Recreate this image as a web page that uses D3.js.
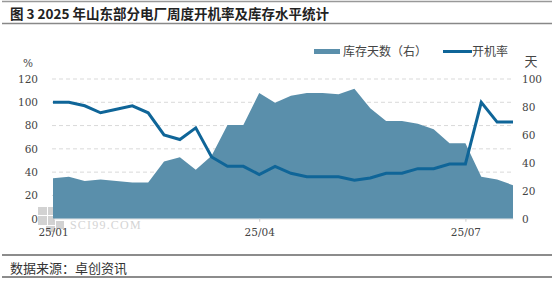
<!DOCTYPE html>
<html>
<head>
<meta charset="utf-8">
<script src="https://cdn.jsdelivr.net/npm/d3@7"></script>
<style>
  body { margin: 0; background: #fff; }
  svg { display: block; }
</style>
</head>
<body>
<div id="container"></div>
<script>
// weekly data, 2025
const weeks = ["2025-01-02","2025-01-09","2025-01-16","2025-01-23","2025-01-30","2025-02-06","2025-02-13","2025-02-20",
    "2025-02-27","2025-03-06","2025-03-13","2025-03-20","2025-03-27","2025-04-03","2025-04-10","2025-04-17",
    "2025-04-24","2025-05-01","2025-05-08","2025-05-15","2025-05-22","2025-05-29","2025-06-05","2025-06-12",
    "2025-06-19","2025-06-26","2025-07-03","2025-07-10","2025-07-17","2025-07-24"];
const runRate = [100, 100, 97, 91, 94, 97, 91, 72, 68, 78, 53, 45, 45, 38, 45, 39, 36, 36, 36, 33,
    35, 39, 39, 43, 43, 47, 47, 100, 83, 83];
const stockDays = [29, 30, 27, 28, 27, 26, 26, 41, 44, 35, 45, 67, 67, 90, 83, 88, 90, 90, 89, 93,
    79, 70, 70, 68, 64, 54, 54, 30, 28, 24];
const xTicks = ["2025-01-02", "2025-04-03", "2025-07-03"];
const xTickLabels = ["25/01", "25/04", "25/07"];
const leftTicks = [0, 20, 40, 60, 80, 100, 120];
const rightTicks = [0, 20, 40, 60, 80, 100];

const width = 554, height = 281;
const parse = d3.timeParse("%Y-%m-%d");
const data = weeks.map((w, i) => ({ date: parse(w), rate: runRate[i], stock: stockDays[i] }));

const areaColor = "#5a8fab", lineColor = "#0f6598";
const axisFont = "'DejaVu Serif', 'Liberation Serif', serif";
const cjkFont = "'Noto Sans CJK SC', 'Noto Sans', sans-serif";

const svg = d3.select("#container").append("svg")
    .attr("width", width)
    .attr("height", height);

// title block
svg.append("line").attr("x1", 2).attr("x2", 552).attr("y1", 1.5).attr("y2", 1.5)
    .attr("stroke", "#999").attr("stroke-width", 1.5);
svg.append("text").attr("x", 10).attr("y", 18.5)
    .attr("font-family", cjkFont).attr("font-size", 13.5).attr("font-weight", "bold")
    .attr("fill", "#222")
    .text("图 3 2025 年山东部分电厂周度开机率及库存水平统计");
svg.append("line").attr("x1", 2).attr("x2", 552).attr("y1", 23.5).attr("y2", 23.5)
    .attr("stroke", "#888").attr("stroke-width", 1.5);

// scales
const x = d3.scaleTime()
    .domain(d3.extent(data, d => d.date))
    .range([53, 513]);
const yLeft = d3.scaleLinear().domain([0, 120]).range([218.7, 79]);
const yRight = d3.scaleLinear().domain([0, 100]).range([218.7, 79]);

// grid
svg.append("g")
    .selectAll("line")
    .data(leftTicks.filter(t => t > 0))
    .join("line")
    .attr("x1", 52).attr("x2", 514)
    .attr("y1", d => yLeft(d)).attr("y2", d => yLeft(d))
    .attr("stroke", "#d9d9d9").attr("stroke-dasharray", "4,3");

// watermark
const wm = svg.append("g").attr("fill", "#d2d2d2");
wm.append("rect").attr("x", 38).attr("y", 207).attr("width", 9).attr("height", 8);
wm.append("rect").attr("x", 48).attr("y", 207).attr("width", 6).attr("height", 8);
wm.append("rect").attr("x", 38).attr("y", 216).attr("width", 9).attr("height", 9);
wm.append("rect").attr("x", 48).attr("y", 216).attr("width", 7).attr("height", 9);
wm.append("rect").attr("x", 56).attr("y", 221).attr("width", 8).attr("height", 8);
wm.append("rect").attr("x", 46).attr("y", 226).attr("width", 9).attr("height", 6);
svg.append("text").attr("x", 70).attr("y", 229)
    .attr("font-family", "'Liberation Serif', serif").attr("font-size", 12).attr("letter-spacing", 1.2)
    .attr("fill", "#d4d4d4").text("SCI99.COM");

// area (right axis)
const area = d3.area()
    .x(d => x(d.date))
    .y0(yRight(0))
    .y1(d => yRight(d.stock));
svg.append("path").datum(data).attr("d", area).attr("fill", areaColor);

// line (left axis)
const line = d3.line()
    .x(d => x(d.date))
    .y(d => yLeft(d.rate));
svg.append("path").datum(data).attr("d", line)
    .attr("fill", "none").attr("stroke", lineColor).attr("stroke-width", 3)
    .attr("stroke-linejoin", "miter");

// x axis
const xAxis = d3.axisBottom(x)
    .tickValues(xTicks.map(parse))
    .tickFormat((d, i) => xTickLabels[i])
    .tickSize(3)
    .tickSizeOuter(0);
const gx = svg.append("g").attr("transform", `translate(0, ${yLeft(0)})`).call(xAxis);
gx.select(".domain").attr("stroke", "#e6e6e6");
gx.selectAll(".tick line").attr("stroke", "#ccc");
gx.selectAll(".tick text").attr("font-family", axisFont).attr("font-size", 10.5)
    .attr("fill", "#444").attr("dy", "1.05em");

// left axis
const gl = svg.append("g").attr("transform", "translate(38, 0)")
    .call(d3.axisLeft(yLeft).tickValues(leftTicks).tickSize(0).tickPadding(0));
gl.select(".domain").remove();
gl.selectAll("text").attr("font-family", axisFont).attr("font-size", 10.5).attr("fill", "#444");
svg.append("text").attr("x", 28).attr("y", 67).attr("text-anchor", "middle")
    .attr("font-family", axisFont).attr("font-size", 10.5).attr("fill", "#444").text("%");

// right axis
const gr = svg.append("g").attr("transform", "translate(522, 0)")
    .call(d3.axisRight(yRight).tickValues(rightTicks).tickSize(0).tickPadding(0));
gr.select(".domain").remove();
gr.selectAll("text").attr("font-family", axisFont).attr("font-size", 10.5).attr("fill", "#444");
svg.append("text").attr("x", 531).attr("y", 66).attr("text-anchor", "middle")
    .attr("font-family", cjkFont).attr("font-size", 13).attr("fill", "#444").text("天");

// legend
const legend = svg.append("g").attr("font-family", cjkFont).attr("font-size", 12).attr("fill", "#444");
legend.append("rect").attr("x", 314).attr("y", 49).attr("width", 26).attr("height", 5).attr("fill", areaColor);
legend.append("text").attr("x", 343).attr("y", 56).text("库存天数（右）");
legend.append("line").attr("x1", 443).attr("x2", 472).attr("y1", 51.5).attr("y2", 51.5)
    .attr("stroke", lineColor).attr("stroke-width", 3);
legend.append("text").attr("x", 472).attr("y", 56).text("开机率");

// source block
svg.append("line").attr("x1", 2).attr("x2", 552).attr("y1", 255).attr("y2", 255)
    .attr("stroke", "#666").attr("stroke-width", 1.5);
svg.append("text").attr("x", 10).attr("y", 273)
    .attr("font-family", cjkFont).attr("font-size", 13).attr("fill", "#333")
    .text("数据来源：卓创资讯");
svg.append("line").attr("x1", 2).attr("x2", 552).attr("y1", 277).attr("y2", 277)
    .attr("stroke", "#666").attr("stroke-width", 1.5);
</script>
</body>
</html>
